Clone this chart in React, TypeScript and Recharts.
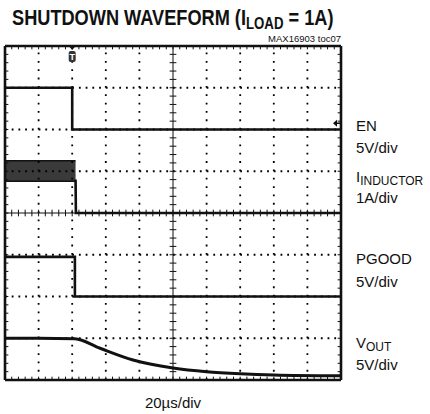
import React from "react";
import {
  ComposedChart,
  Line,
  Area,
  XAxis,
  YAxis,
  ReferenceLine,
  ReferenceDot,
} from "recharts";

// Time axis: 10 divisions (20µs/div); vertical: 8 divisions
const xDivisions = [0, 1, 2, 3, 4, 5, 6, 7, 8, 9, 10];
const yDivisions = [0, 1, 2, 3, 4, 5, 6, 7, 8];

// Traces in screen divisions (t = time div, v = vertical div)
const enTrace = [
  { t: 0, v: 7.0 },
  { t: 2.0, v: 7.0 },
  { t: 2.0, v: 6.0 },
  { t: 10, v: 6.0 },
];
const inductorBand = [
  { t: 0, band: [4.76, 5.25] },
  { t: 2.1, band: [4.76, 5.25] },
];
const inductorTrace = [
  { t: 2.1, v: 4.8 },
  { t: 2.11, v: 4.0 },
  { t: 10, v: 4.0 },
];
const pgoodTrace = [
  { t: 0, v: 2.95 },
  { t: 2.08, v: 2.95 },
  { t: 2.08, v: 2.0 },
  { t: 10, v: 2.0 },
];
const voutTrace = [
  { t: 0, v: 1.0 },
  { t: 1.0, v: 1.0 },
  { t: 2.08, v: 0.99 },
  { t: 2.83, v: 0.76 },
  { t: 3.81, v: 0.48 },
  { t: 5.0, v: 0.29 },
  { t: 6.0, v: 0.2 },
  { t: 7.0, v: 0.15 },
  { t: 8.0, v: 0.12 },
  { t: 10, v: 0.1 },
];

const W = 430;
const H = 414;
const M = { top: 46, right: 89, bottom: 34, left: 5 };
const INK = "#111";

const minorX = Array.from({ length: 49 }, (_, i) => (i + 1) * 0.2);
const minorY = Array.from({ length: 39 }, (_, i) => (i + 1) * 0.2);

const TriggerMark = (p: any) => {
  const { cx } = p;
  const top = M.top;
  return (
    <g>
      <path d={`M${cx - 3.5},${top} L${cx + 3.5},${top} L${cx},${top + 4} Z`} fill={INK} />
      <rect x={cx - 3.5} y={top + 5} width={7} height={11} rx={2} fill="#333" />
      <text x={cx} y={top + 14} fontSize={9} fontWeight="bold" fill="#fff" textAnchor="middle" fontFamily="Liberation Sans, Arial">T</text>
    </g>
  );
};

const GroundArrow = (p: any) => {
  const { cx, cy } = p;
  return (
    <g>
      <line x1={cx - 7} y1={cy} x2={cx - 1} y2={cy} stroke={INK} strokeWidth={1.5} />
      <path d={`M${cx - 8},${cy} L${cx - 4},${cy - 3.5} L${cx - 4},${cy + 3.5} Z`} fill={INK} />
    </g>
  );
};

export default function App() {
  const font = "'Liberation Sans', Arial, sans-serif";
  return (
    <div style={{ position: "absolute", left: 0, top: 0, width: W, height: H, background: "#fff" }}>
      <ComposedChart width={W} height={H} margin={M}>
        <XAxis type="number" dataKey="t" domain={[0, 10]} ticks={xDivisions} hide allowDataOverflow />
        <YAxis type="number" domain={[0, 8]} ticks={yDivisions} hide allowDataOverflow />

        {/* dotted graticule */}
        {xDivisions.filter((d) => d > 0 && d < 10 && d !== 5).map((d) => (
          <ReferenceLine key={`gx${d}`} x={d} stroke="#000" strokeWidth={1.8} strokeDasharray="1.8 6.55" />
        ))}
        {yDivisions.filter((d) => d > 0 && d < 8 && d !== 4).map((d) => (
          <ReferenceLine key={`gy${d}`} y={d} stroke="#000" strokeWidth={1.8} strokeDasharray="1.8 4.92" />
        ))}

        {/* center axes with minor ticks */}
        <ReferenceLine x={5} stroke={INK} strokeWidth={1} />
        <ReferenceLine y={4} stroke={INK} strokeWidth={1} />
        {minorY.map((v) => (
          <ReferenceLine key={`cv${v}`} segment={[{ x: 4.9, y: v }, { x: 5.1, y: v }]} stroke={INK} strokeWidth={1} />
        ))}
        {minorX.map((v) => (
          <ReferenceLine key={`ch${v}`} segment={[{ x: v, y: 3.92 }, { x: v, y: 4.08 }]} stroke={INK} strokeWidth={1} />
        ))}

        {/* border ticks */}
        {minorX.map((v) => (
          <ReferenceLine key={`bt${v}`} segment={[{ x: v, y: 8 }, { x: v, y: 7.92 }]} stroke={INK} strokeWidth={1} />
        ))}
        {minorX.map((v) => (
          <ReferenceLine key={`bb${v}`} segment={[{ x: v, y: 0 }, { x: v, y: 0.08 }]} stroke={INK} strokeWidth={1} />
        ))}
        {minorY.map((v) => (
          <ReferenceLine key={`bl${v}`} segment={[{ x: 0, y: v }, { x: 0.1, y: v }]} stroke={INK} strokeWidth={1} />
        ))}
        {minorY.map((v) => (
          <ReferenceLine key={`br${v}`} segment={[{ x: 9.9, y: v }, { x: 10, y: v }]} stroke={INK} strokeWidth={1} />
        ))}

        {/* traces */}
        <Area data={inductorBand} dataKey="band" type="linear" stroke={INK} strokeWidth={1.5} fill="#3a3a3a" fillOpacity={1} isAnimationActive={false} dot={false} activeDot={false} />
        <Line data={enTrace} dataKey="v" type="linear" stroke={INK} strokeWidth={2.6} dot={false} activeDot={false} isAnimationActive={false} />
        <Line data={inductorTrace} dataKey="v" type="linear" stroke={INK} strokeWidth={2.6} dot={false} activeDot={false} isAnimationActive={false} />
        <Line data={pgoodTrace} dataKey="v" type="linear" stroke={INK} strokeWidth={2.6} dot={false} activeDot={false} isAnimationActive={false} />
        <Line data={voutTrace} dataKey="v" type="monotone" stroke={INK} strokeWidth={3} dot={false} activeDot={false} isAnimationActive={false} />

        {/* frame */}
        <ReferenceLine x={0} stroke={INK} strokeWidth={2.6} ifOverflow="visible" />
        <ReferenceLine x={10} stroke={INK} strokeWidth={2.6} ifOverflow="visible" />
        <ReferenceLine y={0} stroke={INK} strokeWidth={2.6} ifOverflow="visible" />
        <ReferenceLine y={8} stroke={INK} strokeWidth={2.6} ifOverflow="visible" />

        <ReferenceDot x={2} y={8} r={0} ifOverflow="visible" shape={TriggerMark} />
        <ReferenceDot x={10} y={6.15} r={0} ifOverflow="visible" shape={GroundArrow} />
      </ComposedChart>

      <svg width={W} height={H} style={{ position: "absolute", left: 0, top: 0, pointerEvents: "none" }}>
        <g transform="translate(12,25) scale(0.827,1)">
          <text x={0} y={0} fontFamily={font} fontWeight="bold" fontSize={22} fill={INK}>
            SHUTDOWN WAVEFORM (I<tspan fontSize={16} dy={4}>LOAD</tspan><tspan dy={-4}> = 1A)</tspan>
          </text>
        </g>
        <text x={341} y={42} fontFamily={font} fontSize={9.5} fill={INK} textAnchor="end">MAX16903 toc07</text>

        <g fontFamily={font} fontSize={15} fill={INK}>
          <text x={356} y={131}>EN</text>
          <text x={356} y={153}>5V/div</text>
          <text x={356} y={182}>I<tspan fontSize={12} dy={3}>INDUCTOR</tspan></text>
          <text x={356} y={203}>1A/div</text>
          <text x={356} y={264}>PGOOD</text>
          <text x={356} y={287}>5V/div</text>
          <text x={356} y={348}>V<tspan fontSize={12} dy={3}>OUT</tspan></text>
          <text x={356} y={370}>5V/div</text>
          <text x={173} y={408} textAnchor="middle">20µs/div</text>
        </g>
      </svg>
    </div>
  );
}
